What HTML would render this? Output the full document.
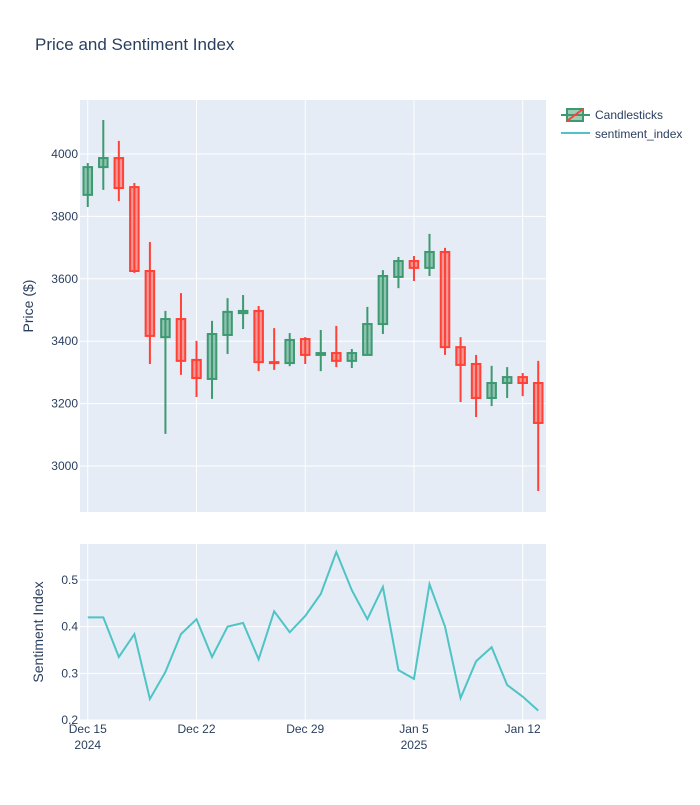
<!DOCTYPE html>
<html><head><meta charset="utf-8"><style>
body{margin:0;background:#fff;font-family:"Liberation Sans",sans-serif}
svg text{font-family:"Liberation Sans",sans-serif;fill:#2a3f5f}
</style></head><body>
<svg id="c" width="700" height="800">
<text x="35" y="50" font-size="17">Price and Sentiment Index</text>
</svg>
<script>
const dates=["Dec 15","Dec 16","Dec 17","Dec 18","Dec 19","Dec 20","Dec 21","Dec 22","Dec 23","Dec 24","Dec 25","Dec 26","Dec 27","Dec 28","Dec 29","Dec 30","Dec 31","Jan 1","Jan 2","Jan 3","Jan 4","Jan 5","Jan 6","Jan 7","Jan 8","Jan 9","Jan 10","Jan 11","Jan 12","Jan 13"];
const opens=[3869,3958,3987,3894,3625,3413,3471,3340,3279,3420,3490,3497,3333,3330,3407,3356,3362,3337,3356,3455,3606,3657,3635,3686,3381,3327,3218,3266,3285,3266];
const highs=[3971,4109,4042,3907,3718,3497,3554,3401,3465,3538,3548,3513,3442,3426,3413,3436,3449,3375,3510,3628,3670,3673,3744,3699,3413,3356,3321,3317,3298,3337];
const lows=[3830,3885,3849,3619,3327,3103,3292,3221,3215,3359,3439,3304,3308,3320,3327,3304,3317,3314,3356,3423,3570,3593,3609,3356,3205,3157,3192,3218,3224,2920];
const closes=[3958,3987,3891,3625,3417,3471,3337,3282,3423,3494,3497,3333,3330,3404,3356,3362,3337,3362,3455,3609,3657,3635,3686,3381,3324,3218,3266,3285,3266,3138];
const sentiment=[0.42,0.42,0.335,0.384,0.245,0.303,0.384,0.416,0.335,0.40,0.408,0.33,0.433,0.388,0.423,0.47,0.56,0.478,0.416,0.485,0.307,0.288,0.491,0.40,0.247,0.326,0.356,0.275,0.25,0.22];
const priceTicks=[3000,3200,3400,3600,3800,4000];
const sentTicks=[0.2,0.3,0.4,0.5];
const xTickIdx=[0,7,14,21,28];
const xTickLabels=[["Dec 15","2024"],["Dec 22",""],["Dec 29",""],["Jan 5","2025"],["Jan 12",""]];
const NS="http://www.w3.org/2000/svg",svg=document.getElementById('c');
function mk(t,a,p){const e=document.createElementNS(NS,t);for(const k in a)e.setAttribute(k,a[k]);(p||svg).appendChild(e);return e;}
const L=80,R=546,T1=100,B1=512,T2=544,B2=720;
const x=i=>L+(i+0.5)*(R-L)/dates.length;
const yP=v=>154+(4000-v)*0.312;
const yS=v=>720-(v-0.2)*466.7;
let bg=mk('rect',{x:L,y:T1,width:R-L,height:B1-T1,fill:'#e5ecf6'});

let bg2=mk('rect',{x:L,y:T2,width:R-L,height:B2-T2,fill:'#e5ecf6'});

priceTicks.forEach(v=>{mk('line',{x1:L,x2:R,y1:yP(v),y2:yP(v),stroke:'#fff'});
 const t=mk('text',{x:L-2,y:yP(v)+4,'font-size':12,'text-anchor':'end'});t.textContent=v;
 });
sentTicks.forEach(v=>{mk('line',{x1:L,x2:R,y1:yS(v),y2:yS(v),stroke:'#fff'});
 const t=mk('text',{x:L-2,y:yS(v)+4,'font-size':12,'text-anchor':'end'});t.textContent=v.toFixed(1);
 });
xTickIdx.forEach((i,k)=>{mk('line',{x1:x(i),x2:x(i),y1:T1,y2:B1,stroke:'#fff'});mk('line',{x1:x(i),x2:x(i),y1:T2,y2:B2,stroke:'#fff'});
 const t=mk('text',{x:x(i),y:733,'font-size':12,'text-anchor':'middle'});t.textContent=xTickLabels[k][0];
 
 if(xTickLabels[k][1]){const t2=mk('text',{x:x(i),y:749,'font-size':12,'text-anchor':'middle'});t2.textContent=xTickLabels[k][1];
 }});
const bw=(R-L)/dates.length*0.55;
dates.forEach((d,i)=>{const up=closes[i]>=opens[i];const col=up?'#3d9970':'#ff4136';const fill=up?'rgba(61,153,112,0.5)':'rgba(255,65,54,0.5)';
 const g=mk('g',{});
 mk('line',{x1:x(i),x2:x(i),y1:yP(highs[i]),y2:yP(lows[i]),stroke:col,'stroke-width':2},g);
 const top=yP(Math.max(opens[i],closes[i])),bot=yP(Math.min(opens[i],closes[i]));
 mk('rect',{x:x(i)-bw/2,y:top,width:bw,height:Math.max(bot-top,1),fill:fill,stroke:col,'stroke-width':2},g);});
const pl=mk('polyline',{points:sentiment.map((v,i)=>x(i)+','+yS(v)).join(' '),fill:'none',stroke:'#4fc4c4','stroke-width':2});

let a=mk('text',{x:33,y:306,'font-size':14,'text-anchor':'middle',transform:'rotate(-90 33 306)'});a.textContent='Price ($)';

let b=mk('text',{x:43,y:632,'font-size':14,'text-anchor':'middle',transform:'rotate(-90 43 632)'});b.textContent='Sentiment Index';

const lg=mk('g',{});
mk('line',{x1:561,x2:590,y1:115,y2:115,stroke:'#3d9970','stroke-width':2},lg);
mk('rect',{x:567,y:109,width:16,height:12,fill:'rgba(61,153,112,0.5)',stroke:'#3d9970','stroke-width':2},lg);
mk('line',{x1:567,x2:583,y1:121,y2:109,stroke:'#ff4136','stroke-width':2},lg);
let t1=mk('text',{x:595,y:119,'font-size':12},lg);t1.textContent='Candlesticks';
mk('line',{x1:561,x2:590,y1:133,y2:133,stroke:'#4fc4c4','stroke-width':2},lg);
let t2=mk('text',{x:595,y:138,'font-size':12},lg);t2.textContent='sentiment_index';
</script>
</body></html>
